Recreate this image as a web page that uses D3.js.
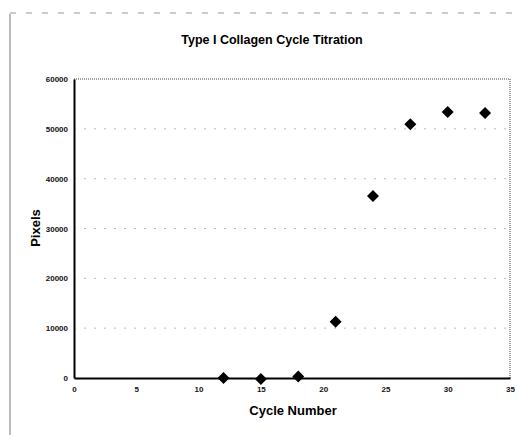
<!DOCTYPE html>
<meta charset="utf-8">
<style>
body { margin: 0; background: white; }
.tick text { font-family: Arial, "Liberation Sans", sans-serif; font-size: 8px; font-weight: bold; fill: #111; }
</style>
<script src="https://d3js.org/d3.v7.min.js"></script>
<body>
<script>
const cycles = [12, 15, 18, 21, 24, 27, 30, 33];
const pixels = [0, -200, 300, 11300, 36500, 50900, 53400, 53200];
const xTicks = [0, 5, 10, 15, 20, 25, 30, 35];
const yTicks = [0, 10000, 20000, 30000, 40000, 50000, 60000];

const margin = { top: 79, right: 8, bottom: 57, left: 74 };
const width = 518 - margin.left - margin.right;
const height = 435 - margin.top - margin.bottom;

const root = d3.select('body')
  .append('svg')
    .attr('width', 518)
    .attr('height', 435);

// outer chart frame (left + top, faint)
root.append('line')
  .attr('x1', 10).attr('x2', 10).attr('y1', 14).attr('y2', 435)
  .attr('stroke', '#777').attr('stroke-width', 1);
root.append('line')
  .attr('x1', 10).attr('x2', 518).attr('y1', 13).attr('y2', 13)
  .attr('stroke', '#999').attr('stroke-width', 1).attr('stroke-dasharray', '6,10');

root.append('text')
  .attr('x', 272).attr('y', 44)
  .attr('text-anchor', 'middle')
  .style('font-family', 'Arial, "Liberation Sans", sans-serif')
  .style('font-size', '12.5px').style('font-weight', 'bold')
  .text('Type I Collagen Cycle Titration');

const svg = root.append('g')
  .attr('transform', `translate(${margin.left}, ${margin.top})`);

const x = d3.scaleLinear().domain([0, 35]).range([0, width]);
const y = d3.scaleLinear().domain([0, 60000]).range([height, 0]);

// gridlines
svg.append('g')
  .selectAll('line')
  .data(yTicks.slice(1, -1))
  .join('line')
    .attr('x1', 0).attr('x2', width)
    .attr('y1', d => y(d)).attr('y2', d => y(d))
    .attr('stroke', '#bbb').attr('stroke-width', 1)
    .attr('stroke-dasharray', '2,8');

// top & right frame, dotted
svg.append('path')
  .attr('d', `M0,0H${width}V${height}`)
  .attr('fill', 'none').attr('stroke', '#444').attr('stroke-width', 1)
  .attr('stroke-dasharray', '1,1');

svg.append('g')
  .attr('transform', `translate(0, ${height})`)
  .call(d3.axisBottom(x).tickValues(xTicks).tickSize(0).tickPadding(8).tickFormat(d3.format('d')))
  .call(g => g.select('.domain').attr('stroke', '#000').attr('stroke-width', 2));

svg.append('g')
  .call(d3.axisLeft(y).tickValues(yTicks).tickSize(0).tickPadding(6).tickFormat(d3.format('d')))
  .call(g => g.select('.domain').attr('stroke', '#000').attr('stroke-width', 2));

svg.append('g')
  .selectAll('path')
  .data(cycles.map((c, i) => ({ c, v: pixels[i] })))
  .join('path')
    .attr('d', d3.symbol(d3.symbolSquare, 72))
    .attr('transform', d => `translate(${x(d.c)}, ${y(d.v)}) rotate(45)`)
    .attr('fill', '#000');

root.append('text')
  .attr('x', 293).attr('y', 415)
  .attr('text-anchor', 'middle')
  .style('font-family', 'Arial, "Liberation Sans", sans-serif')
  .style('font-size', '13px').style('font-weight', 'bold')
  .text('Cycle Number');

root.append('text')
  .attr('transform', 'translate(40, 228) rotate(-90)')
  .attr('text-anchor', 'middle')
  .style('font-family', 'Arial, "Liberation Sans", sans-serif')
  .style('font-size', '13px').style('font-weight', 'bold')
  .text('Pixels');
</script>
</body>
